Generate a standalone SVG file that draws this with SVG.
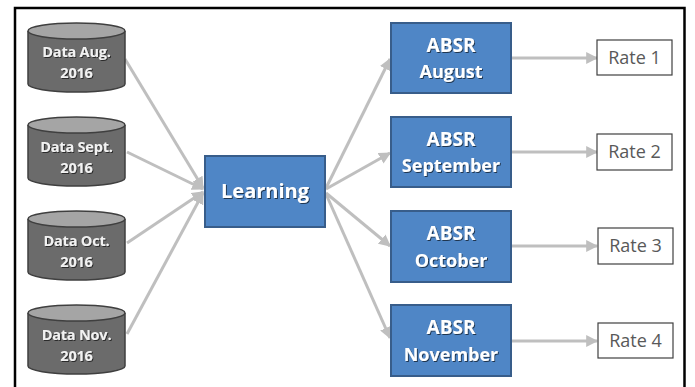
<svg xmlns="http://www.w3.org/2000/svg" width="695" height="387" viewBox="0 0 695 387">
<defs>
<marker id="ah" viewBox="0 0 10 10" refX="9" refY="5" markerWidth="4" markerHeight="4" markerUnits="strokeWidth" orient="auto">
<path d="M0,0 L10,5 L0,10 z" fill="#bfbfbf"/>
</marker>
<filter id="sh" x="-10%" y="-20%" width="120%" height="140%">
<feDropShadow dx="1" dy="1" stdDeviation="0.6" flood-color="#000" flood-opacity="0.6"/>
</filter>
</defs>
<style>
.cyl{fill:#6b6b6b;stroke:#3f3f3f;stroke-width:1.5}
.cyltop{fill:#a5a5a5;stroke:#3f3f3f;stroke-width:1.5}
.ct{font-family:"Open Sans","Liberation Sans",Arial,sans-serif;font-weight:bold;font-size:14.5px;letter-spacing:-0.2px;fill:#f2f2f2;text-anchor:middle;filter:url(#sh)}
.box{fill:#4f86c6;stroke:#385d8a;stroke-width:2}
.bt{font-family:"Open Sans","Liberation Sans",sans-serif;font-weight:bold;fill:#fff;text-anchor:middle;filter:url(#sh)}
.rate{fill:#fff;stroke:#404040;stroke-width:1.2}
.rt{font-family:"Open Sans","Liberation Sans",sans-serif;font-size:18px;fill:#595959;text-anchor:middle}
.c{stroke:#bfbfbf;stroke-width:3;fill:none;marker-end:url(#ah)}
</style>
<rect x="0" y="0" width="695" height="387" fill="#fff"/>
<path d="M15,395 V8 H684.5 V395" fill="none" stroke="#000" stroke-width="2.5"/>
<g id="connectors">
<line class="c" x1="125" y1="59" x2="203" y2="188"/>
<line class="c" x1="127" y1="152" x2="203" y2="189"/>
<line class="c" x1="127" y1="243" x2="203" y2="192"/>
<line class="c" x1="127" y1="334" x2="203" y2="193"/>
<line class="c" x1="326" y1="188" x2="390" y2="59"/>
<line class="c" x1="326" y1="189" x2="390" y2="153"/>
<line class="c" x1="326" y1="193" x2="390" y2="246"/>
<line class="c" x1="326" y1="194" x2="390" y2="338"/>
<line class="c" x1="511" y1="58" x2="597" y2="58"/>
<line class="c" x1="511" y1="152" x2="597" y2="152"/>
<line class="c" x1="511" y1="246" x2="597" y2="246"/>
<line class="c" x1="511" y1="341" x2="597" y2="341"/>
</g>
<g id="data-aug">
<path class="cyl" d="M28,31 V84 A48.5,8 0 0 0 125,84 V31"/>
<ellipse class="cyltop" cx="76.5" cy="31" rx="48.5" ry="8"/>
<text class="ct" x="76.5" y="57">Data Aug.</text>
<text class="ct" x="76.5" y="78">2016</text>
</g>
<g id="data-sept">
<path class="cyl" d="M28,125 V178 A48.5,8 0 0 0 125,178 V125"/>
<ellipse class="cyltop" cx="76.5" cy="125" rx="48.5" ry="8"/>
<text class="ct" x="76.5" y="152">Data Sept.</text>
<text class="ct" x="76.5" y="173">2016</text>
</g>
<g id="data-oct">
<path class="cyl" d="M28,219 V272 A48.5,8 0 0 0 125,272 V219"/>
<ellipse class="cyltop" cx="76.5" cy="219" rx="48.5" ry="8"/>
<text class="ct" x="76.5" y="246">Data Oct.</text>
<text class="ct" x="76.5" y="267">2016</text>
</g>
<g id="data-nov">
<path class="cyl" d="M28,313 V366 A48.5,8 0 0 0 125,366 V313"/>
<ellipse class="cyltop" cx="76.5" cy="313" rx="48.5" ry="8"/>
<text class="ct" x="76.5" y="340">Data Nov.</text>
<text class="ct" x="76.5" y="361">2016</text>
</g>
<g id="learning">
<rect class="box" x="205" y="156" width="120" height="71"/>
<text class="bt" x="265" y="198" font-size="20">Learning</text>
</g>
<g id="absr-aug">
<rect class="box" x="391" y="23" width="120" height="70"/>
<text class="bt" x="451" y="52" font-size="19">ABSR</text>
<text class="bt" x="451" y="78" font-size="18">August</text>
</g>
<g id="absr-sep">
<rect class="box" x="391" y="117" width="120" height="70"/>
<text class="bt" x="451" y="146" font-size="19">ABSR</text>
<text class="bt" x="451" y="172" font-size="18">September</text>
</g>
<g id="absr-oct">
<rect class="box" x="391" y="211" width="120" height="71"/>
<text class="bt" x="451" y="240" font-size="19">ABSR</text>
<text class="bt" x="451" y="267" font-size="18">October</text>
</g>
<g id="absr-nov">
<rect class="box" x="391" y="305" width="120" height="71"/>
<text class="bt" x="451" y="334" font-size="19">ABSR</text>
<text class="bt" x="451" y="361" font-size="18">November</text>
</g>
<g id="rate1">
<rect class="rate" x="597" y="40" width="75" height="35"/>
<text class="rt" x="634.5" y="64">Rate 1</text>
</g>
<g id="rate2">
<rect class="rate" x="597" y="134" width="75" height="36"/>
<text class="rt" x="634.5" y="158">Rate 2</text>
</g>
<g id="rate3">
<rect class="rate" x="598" y="228" width="75" height="36"/>
<text class="rt" x="635.5" y="252">Rate 3</text>
</g>
<g id="rate4">
<rect class="rate" x="598" y="323" width="75" height="35"/>
<text class="rt" x="635.5" y="347">Rate 4</text>
</g>
</svg>
